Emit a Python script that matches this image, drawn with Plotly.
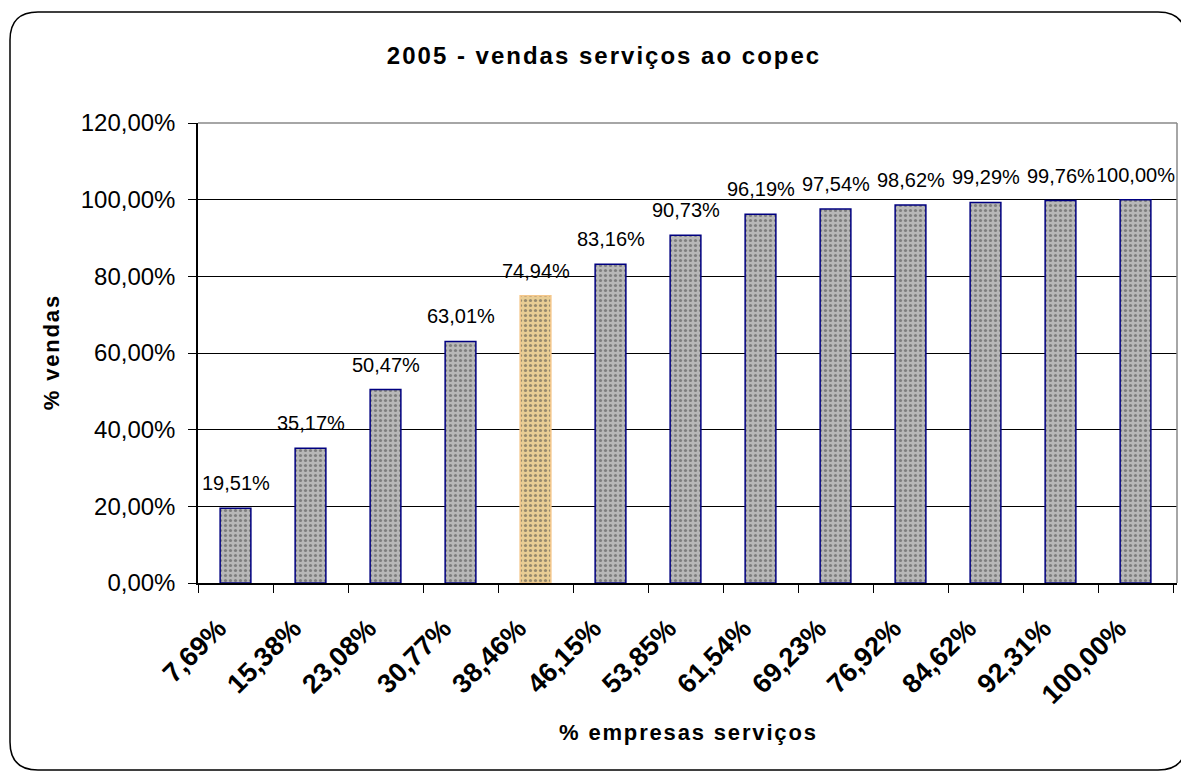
import plotly.graph_objects as go

# data
empresas = ["7,69%", "15,38%", "23,08%", "30,77%", "38,46%", "46,15%", "53,85%",
            "61,54%", "69,23%", "76,92%", "84,62%", "92,31%", "100,00%"]
vendas = [19.51, 35.17, 50.47, 63.01, 74.94, 83.16, 90.73,
          96.19, 97.54, 98.62, 99.29, 99.76, 100.00]
y_ticks = [0, 20, 40, 60, 80, 100, 120]
y_labels = ["0,00%", "20,00%", "40,00%", "60,00%", "80,00%", "100,00%", "120,00%"]
highlight = "38,46%"
titulo = "2005 - vendas serviços ao copec"
titulo_x = "% empresas serviços"
titulo_y = "% vendas"

FONT = "Arial, Liberation Sans, sans-serif"

# the page body has an 8px margin, so the figure is drawn 8px smaller
OFF = 8
W, H = 1189 - OFF, 772 - OFF
L, R, T, B = 198 - OFF, 12, 123 - OFF, 189
pw, ph = W - L - R, H - T - B


def px(x):
    return (x - OFF - L) / pw


def py(y):
    return (H - B - (y - OFF)) / ph


def spaced(s):
    # the original titles are slightly letter-spaced
    return "\u200a".join(s)


bar_colors = ["#e8cd94" if c == highlight else "#b8b8b8" for c in empresas]
line_colors = ["#f5c88c" if c == highlight else "#000080" for c in empresas]
pattern_fg = ["#d8bf88" if c == highlight else "#7a7a7a" for c in empresas]
pattern_bg = ["#ecd4a0" if c == highlight else "#d0d0d0" for c in empresas]

fig = go.Figure()
fig.add_trace(go.Bar(
    x=empresas,
    y=vendas,
    marker=dict(
        color=bar_colors,
        line=dict(color=line_colors, width=1.5),
        pattern=dict(shape=".", fgcolor=pattern_fg, bgcolor=pattern_bg,
                     size=5, solidity=0.32),
    ),
    hoverinfo="x+y",
    showlegend=False,
))

# value labels above the bars
for cat, val in zip(empresas, vendas):
    fig.add_annotation(
        x=cat, y=val, text=f"{val:.2f}%".replace(".", ","),
        showarrow=False, yanchor="bottom", yshift=12,
        font=dict(family=FONT, size=20, color="black"),
    )

# rounded outer frame
x0, x1, y0, y1 = px(10), px(1186), py(770), py(12)
rx, ry = 28 / pw, 28 / ph
path = (f"M {x0 + rx},{y1} L {x1 - rx},{y1} Q {x1},{y1} {x1},{y1 - ry} "
        f"L {x1},{y0 + ry} Q {x1},{y0} {x1 - rx},{y0} "
        f"L {x0 + rx},{y0} Q {x0},{y0} {x0},{y0 + ry} "
        f"L {x0},{y1 - ry} Q {x0},{y1} {x0 + rx},{y1} Z")
fig.add_shape(type="path", path=path, xref="paper", yref="paper",
              line=dict(color="black", width=1.5), layer="below")

# gray frame around the plot area (top and right)
fig.add_shape(type="line", xref="paper", yref="paper", x0=0, x1=1, y0=1, y1=1,
              line=dict(color="#888888", width=1.5))
fig.add_shape(type="line", xref="paper", yref="paper", x0=1, x1=1, y0=0, y1=1,
              line=dict(color="#888888", width=1.5))

fig.update_layout(
    width=W, height=H,
    margin=dict(l=L, r=R, t=T, b=B),
    paper_bgcolor="white",
    plot_bgcolor="white",
    bargap=0.59,
    title=dict(text=f"<b>{spaced(titulo)}</b>", x=(603 - OFF) / W, xanchor="center",
               y=1 - (56 - OFF) / H, yanchor="middle",
               font=dict(family=FONT, size=24, color="black")),
    xaxis=dict(
        type="category",
        showline=True, linecolor="black", linewidth=1.5,
        ticks="outside", tickson="boundaries", ticklen=8, tickcolor="black",
        tickangle=-45, ticklabelstandoff=17, ticklabelshift=-17,
        tickfont=dict(family=FONT, size=27, color="black", weight="bold"),
        title=dict(text=f"<b>{spaced(titulo_x)}</b>", standoff=16,
                   font=dict(family=FONT, size=22, color="black")),
        showgrid=False,
    ),
    yaxis=dict(
        range=[0, 120],
        tickvals=y_ticks, ticktext=y_labels,
        showline=True, linecolor="black", linewidth=1.5,
        ticks="outside", ticklen=8, tickcolor="black", ticklabelstandoff=8,
        tickfont=dict(family=FONT, size=24, color="black"),
        showgrid=True, gridcolor="black", gridwidth=1,
        zeroline=False,
        title=dict(text=f"<b>{spaced(titulo_y)}</b>", standoff=15,
                   font=dict(family=FONT, size=22, color="black")),
    ),
)

fig.write_html("out.html")
